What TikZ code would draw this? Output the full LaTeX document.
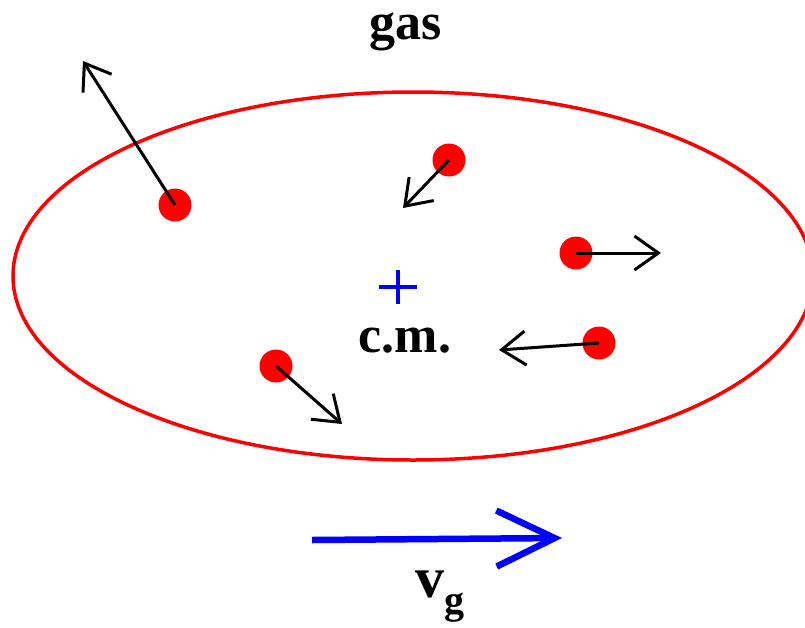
\documentclass[tikz,border=0pt]{standalone}
\usepackage{fontspec}
\setmainfont{Liberation Serif}
\usepackage{xcolor}
\usetikzlibrary{arrows.meta,positioning}
\definecolor{gasred}{HTML}{FF0000}
\definecolor{cmblue}{HTML}{0000FF}

\begin{document}
\begin{tikzpicture}[
    x=1pt, y=-1pt,
    particle/.style={circle, fill=gasred, minimum size=33pt, inner sep=0pt},
    velo/.style={draw=black, line width=3pt, -{Straight Barb[length=24pt, width=34pt]}},
    label/.style={font=\bfseries\fontsize{52}{56}\selectfont, inner sep=0pt}
]
\useasboundingbox (0,0) rectangle (805,627);
\clip (0,0) rectangle (805,627);

\draw[gasred, line width=3.5pt] (413,276) ellipse [x radius=400, y radius=184];

\node[label, anchor=base] (gas) at (406,39) {gas};

\node[particle] (p1) at (175,205) {};
\node[particle] (p2) at (449,160) {};
\node[particle] (p3) at (576,253) {};
\node[particle] (p4) at (599,343) {};
\node[particle] (p5) at (276,366) {};

\coordinate (t1) at (83,61);
\coordinate (t2) at (403,208);
\coordinate (t3) at (661,253);
\coordinate (t4) at (499,350);
\coordinate (t5) at (342,424);

\draw[velo] (p1.center) -- (t1);
\draw[velo] (p2.center) -- (t2);
\draw[velo] (p3.center) -- (t3);
\draw[velo] (p4.center) -- (t4);
\draw[velo] (p5.center) -- (t5);

% centre of mass
\coordinate (cm) at (398,287);
\draw[cmblue, line width=4pt] ([xshift=-19pt]cm) -- ([xshift=19pt]cm)
    ([yshift=-17pt]cm) -- ([yshift=17pt]cm);
\node[label, anchor=base] (cmlabel) at (405,352) {c.m.};

% velocity of the gas
\coordinate (vs) at (312,540);
\coordinate (ve) at (562,538);
\draw[cmblue, line width=6.5pt, -{Straight Barb[length=58pt, width=56pt]}] (vs) -- (ve);
\node[inner sep=0pt, anchor=base] (vg) at (440,597)
    {\bfseries\fontsize{58}{60}\selectfont v\fontsize{40}{42}\selectfont\raisebox{-16pt}{g}};
\end{tikzpicture}
\end{document}
